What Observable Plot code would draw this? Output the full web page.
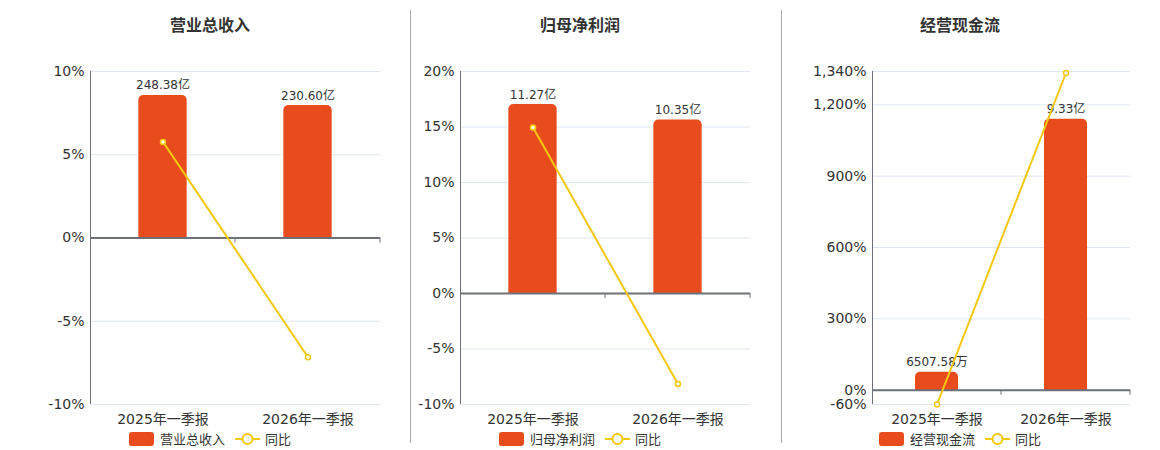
<!DOCTYPE html>
<html>
<head>
<meta charset="utf-8">
<script src="https://cdn.jsdelivr.net/npm/d3@7"></script>
<script src="https://cdn.jsdelivr.net/npm/@observablehq/plot@0.6"></script>
<style>
  html, body { margin: 0; padding: 0; background: #fff; }
  #root { position: relative; width: 1160px; height: 450px; overflow: hidden;
          font-family: "DejaVu Sans", "Noto Sans CJK SC", sans-serif; color: #333; }
  .layer { position: absolute; top: 0; }
  .title { position: absolute; top: 12px; transform: translateX(-50%); font-size: 16px; font-weight: bold;
           color: #333; white-space: nowrap; font-family: "DejaVu Sans", "Noto Sans CJK SC", sans-serif; }
  .legend { position: absolute; top: 429px; transform: translateX(-50%); display: flex; align-items: center;
            font-size: 13px; color: #333; white-space: nowrap; }
  .divider { position: absolute; top: 10px; width: 1px; height: 433px; background: #aaa; }
</style>
</head>
<body>
<div id="root"></div>
<script>
// ---- data ----
const periods = ["2025年一季报", "2026年一季报"];
const titles = ["营业总收入", "归母净利润", "经营现金流"];
// bar values in 亿元
const revenue = [248.38, 230.60];
const netProfit = [11.27, 10.35];
const cashFlow = [0.650758, 9.33];
// 同比 (%)
const revenueYoY = [5.77, -7.16];
const netProfitYoY = [14.95, -8.16];
const cashFlowYoY = [-60, 1333.7];
// axis ticks (%)
const ticks1 = [-10, -5, 0, 5, 10];
const ticks2 = [-10, -5, 0, 5, 10, 15, 20];
const ticks3 = [-60, 0, 300, 600, 900, 1200, 1340];
// hidden bar-axis domains (亿元), aligned so zero matches the % axis
const barDomain1 = [-290, 290];
const barDomain2 = [-6.62, 13.24];
const barDomain3 = [-0.456, 10.97];

const BAR = "#e84c1d";
const LINE = "#f3c80c";
const FONT = "\"DejaVu Sans\", \"Noto Sans CJK SC\", sans-serif";

const panels = [
  {title: titles[0], bars: revenue, yoy: revenueYoY, ticks: ticks1, barDomain: barDomain1,
   left: 0, width: 400, ml: 90, mr: 20, center: 210},
  {title: titles[1], bars: netProfit, yoy: netProfitYoY, ticks: ticks2, barDomain: barDomain2,
   left: 410, width: 370, ml: 50, mr: 30, center: 580},
  {title: titles[2], bars: cashFlow, yoy: cashFlowYoY, ticks: ticks3, barDomain: barDomain3,
   left: 782, width: 378, ml: 90, mr: 30, center: 960}
];

function fmtBar(v) {
  return v >= 1 ? v.toFixed(2) + "亿" : (v * 10000).toFixed(2) + "万";
}
const fmtPct = d => d3.format(",")(d).replace("−", "-") + "%";

const root = document.getElementById("root");
const H = 450, MT = 71, MB = 46;

function bandTicks(index, scales) {
  const x = scales.x, y = scales.y;
  const bw = x.bandwidth ? x.bandwidth() : 0;
  const y0 = y(0);
  const g = d3.create("svg:g").attr("stroke", "#6e7079").attr("stroke-width", 1);
  x.domain().forEach(c => {
    const xe = x(c) + bw;
    g.append("line").attr("x1", xe).attr("x2", xe).attr("y1", y0).attr("y2", y0 + 5);
  });
  return g.node();
}

panels.forEach((p, i) => {
  const rows = periods.map((c, j) => ({period: c, bar: p.bars[j], yoy: p.yoy[j]}));
  const pctDomain = [d3.min(p.ticks), d3.max(p.ticks)];
  const common = {
    width: p.width, height: H, marginTop: MT, marginBottom: MB, marginLeft: p.ml, marginRight: p.mr,
    style: {background: "transparent", fontFamily: FONT, color: "#333", overflow: "visible"}
  };
  const step = (p.width - p.ml - p.mr) / periods.length;
  const inset = step / 3;

  // layer 1: grid + axes
  const axes = Plot.plot({
    ...common,
    x: {type: "band", domain: periods, padding: 0},
    y: {domain: pctDomain},
    marks: [
      Plot.ruleY(p.ticks, {stroke: "#e0e6f1", strokeWidth: 1}),
      Plot.ruleX([periods[0]], {dx: -step / 2, y1: pctDomain[0], y2: pctDomain[1], stroke: "#6e7079", strokeWidth: 1}),
      Plot.axisY({ticks: p.ticks, tickFormat: fmtPct, tickSize: 0, tickPadding: 6, fontSize: 14, fill: "#333", label: null}),
      Plot.axisX({tickSize: 0, tickPadding: 10, fontSize: 14, fill: "#333", label: null})
    ]
  });
  // layer 2: bars
  const bars = Plot.plot({
    ...common,
    x: {type: "band", domain: periods, padding: 0, axis: null},
    y: {domain: p.barDomain, axis: null},
    marks: [
      Plot.barY(rows, {x: "period", y: "bar", fill: BAR, insetLeft: inset, insetRight: inset, ry1: 5}),
      Plot.text(rows, {x: "period", y: "bar", text: d => fmtBar(d.bar), lineAnchor: "bottom", dy: -6,
                       fontSize: 12, fill: "#333"})
    ]
  });
  // layer 3: zero line + yoy line
  const line = Plot.plot({
    ...common,
    x: {type: "band", domain: periods, padding: 0, axis: null},
    y: {domain: pctDomain, axis: null},
    marks: [
      Plot.ruleY([0], {stroke: "#6e7079", strokeWidth: 2}),
      bandTicks,
      Plot.line(rows, {x: "period", y: "yoy", stroke: LINE, strokeWidth: 2}),
      Plot.dot(rows, {x: "period", y: "yoy", r: 2.5, fill: "#fff", stroke: LINE, strokeWidth: 1.5})
    ]
  });
  [axes, bars, line].forEach(svg => {
    svg.classList.add("layer");
    svg.style.left = p.left + "px";
    root.appendChild(svg);
  });

  const t = document.createElement("div");
  t.className = "title";
  t.style.left = p.center + "px";
  t.textContent = p.title;
  root.appendChild(t);

  const lg = document.createElement("div");
  lg.className = "legend";
  lg.style.left = p.center + "px";
  lg.innerHTML =
    `<svg width="25" height="14" style="margin-right:6px"><rect x="0" y="0" width="25" height="14" rx="3" fill="${BAR}"/></svg>` +
    `<span>${p.title}</span>` +
    `<svg width="25" height="14" style="margin:0 5px 0 10px"><line x1="0" x2="25" y1="7" y2="7" stroke="${LINE}" stroke-width="2"/><circle cx="12.5" cy="7" r="5" fill="#fff" stroke="${LINE}" stroke-width="2"/></svg>` +
    `<span>同比</span>`;
  root.appendChild(lg);
});

[410, 781].forEach(x => {
  const d = document.createElement("div");
  d.className = "divider";
  d.style.left = x + "px";
  root.appendChild(d);
});
</script>
</body>
</html>
